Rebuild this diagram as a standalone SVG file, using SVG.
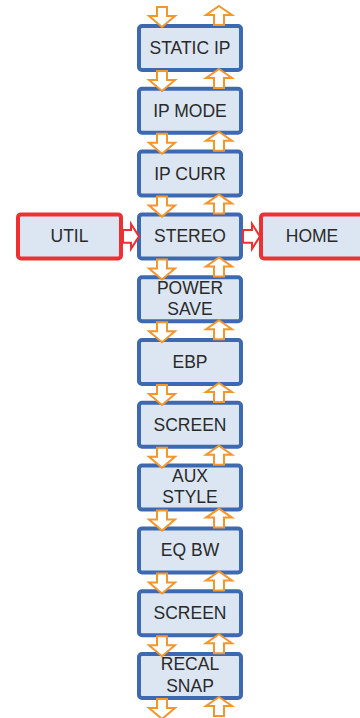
<svg xmlns="http://www.w3.org/2000/svg" xmlns:xlink="http://www.w3.org/1999/xlink" width="360" height="718" viewBox="0 0 360 718">
<style>
.box{fill:#dce6f2;stroke:#3d69b1;stroke-width:4}
.rbox{fill:#dce6f2;stroke:#ec3034;stroke-width:4}
.t{font-family:"Liberation Sans",Arial,sans-serif;font-size:17.5px;fill:#2a2a2a;text-anchor:middle}
.oa{fill:#fff;stroke:#f5952a;stroke-width:2;stroke-linejoin:miter}
.ra{fill:#fff;stroke:#ec3034;stroke-width:2}
</style>
<defs>
<path id="dn" d="M-5,0 H5 V9 H13 L0,20 L-13,9 H-5 Z"/>
<path id="up" d="M0,0 L13,9 H5 V19 H-5 V9 H-13 Z"/>
</defs>
<rect width="360" height="718" fill="#fff"/>
<g id="n-static-ip"><rect class="box" x="139" y="26" width="102" height="44" rx="3"/><text class="t" x="190" y="54">STATIC IP</text></g>
<g id="n-ip-mode"><rect class="box" x="139" y="88.8" width="102" height="44" rx="3"/><text class="t" x="190" y="116.8">IP MODE</text></g>
<g id="n-ip-curr"><rect class="box" x="139" y="151.6" width="102" height="44" rx="3"/><text class="t" x="190" y="179.6">IP CURR</text></g>
<g id="n-stereo"><rect class="box" x="139" y="214.4" width="102" height="44" rx="3"/><text class="t" x="190" y="242.4">STEREO</text></g>
<g id="n-util"><rect class="rbox" x="18" y="214.4" width="103" height="44" rx="3"/><text class="t" x="69.5" y="242.4">UTIL</text></g>
<g id="n-home"><rect class="rbox" x="261" y="214.4" width="103" height="44" rx="3"/><text class="t" x="312" y="242.4">HOME</text></g>
<g id="n-power-save"><rect class="box" x="139" y="277.2" width="102" height="44" rx="3"/><text class="t" x="190" y="293.5">POWER</text><text class="t" x="190" y="315">SAVE</text></g>
<g id="n-ebp"><rect class="box" x="139" y="340" width="102" height="44" rx="3"/><text class="t" x="190" y="368">EBP</text></g>
<g id="n-screen1"><rect class="box" x="139" y="402.8" width="102" height="44" rx="3"/><text class="t" x="190" y="430.8">SCREEN</text></g>
<g id="n-aux-style"><rect class="box" x="139" y="465.6" width="102" height="44" rx="3"/><text class="t" x="190" y="481.9">AUX</text><text class="t" x="190" y="503.4">STYLE</text></g>
<g id="n-eq-bw"><rect class="box" x="139" y="528.4" width="102" height="44" rx="3"/><text class="t" x="190" y="556.4">EQ BW</text></g>
<g id="n-screen2"><rect class="box" x="139" y="591.2" width="102" height="44" rx="3"/><text class="t" x="190" y="619.2">SCREEN</text></g>
<g id="n-recal-snap"><rect class="box" x="139" y="654" width="102" height="44" rx="3"/><text class="t" x="190" y="670.3">RECAL</text><text class="t" x="190" y="691.8">SNAP</text></g>
<g id="connectors">
<use href="#dn" class="oa" x="162" y="7"/><use href="#up" class="oa" x="219" y="6"/>
<use href="#dn" class="oa" x="162" y="71"/><use href="#up" class="oa" x="219" y="69"/>
<use href="#dn" class="oa" x="162" y="133.8"/><use href="#up" class="oa" x="219" y="131.8"/>
<use href="#dn" class="oa" x="162" y="196.6"/><use href="#up" class="oa" x="219" y="194.6"/>
<use href="#dn" class="oa" x="162" y="259.4"/><use href="#up" class="oa" x="219" y="257.4"/>
<use href="#dn" class="oa" x="162" y="322.2"/><use href="#up" class="oa" x="219" y="320.2"/>
<use href="#dn" class="oa" x="162" y="385"/><use href="#up" class="oa" x="219" y="383"/>
<use href="#dn" class="oa" x="162" y="447.8"/><use href="#up" class="oa" x="219" y="445.8"/>
<use href="#dn" class="oa" x="162" y="510.6"/><use href="#up" class="oa" x="219" y="508.6"/>
<use href="#dn" class="oa" x="162" y="573.4"/><use href="#up" class="oa" x="219" y="571.4"/>
<use href="#dn" class="oa" x="162" y="636.2"/><use href="#up" class="oa" x="219" y="634.2"/>
<use href="#dn" class="oa" x="162" y="699"/><use href="#up" class="oa" x="219" y="697"/>
<path class="ra" d="M123,230 H131 V224 L139,236.4 L131,248.8 V242.8 H123 Z"/>
<path class="ra" d="M243,230 H252 V224 L260,236.4 L252,248.8 V242.8 H243 Z"/>
</g>
</svg>
